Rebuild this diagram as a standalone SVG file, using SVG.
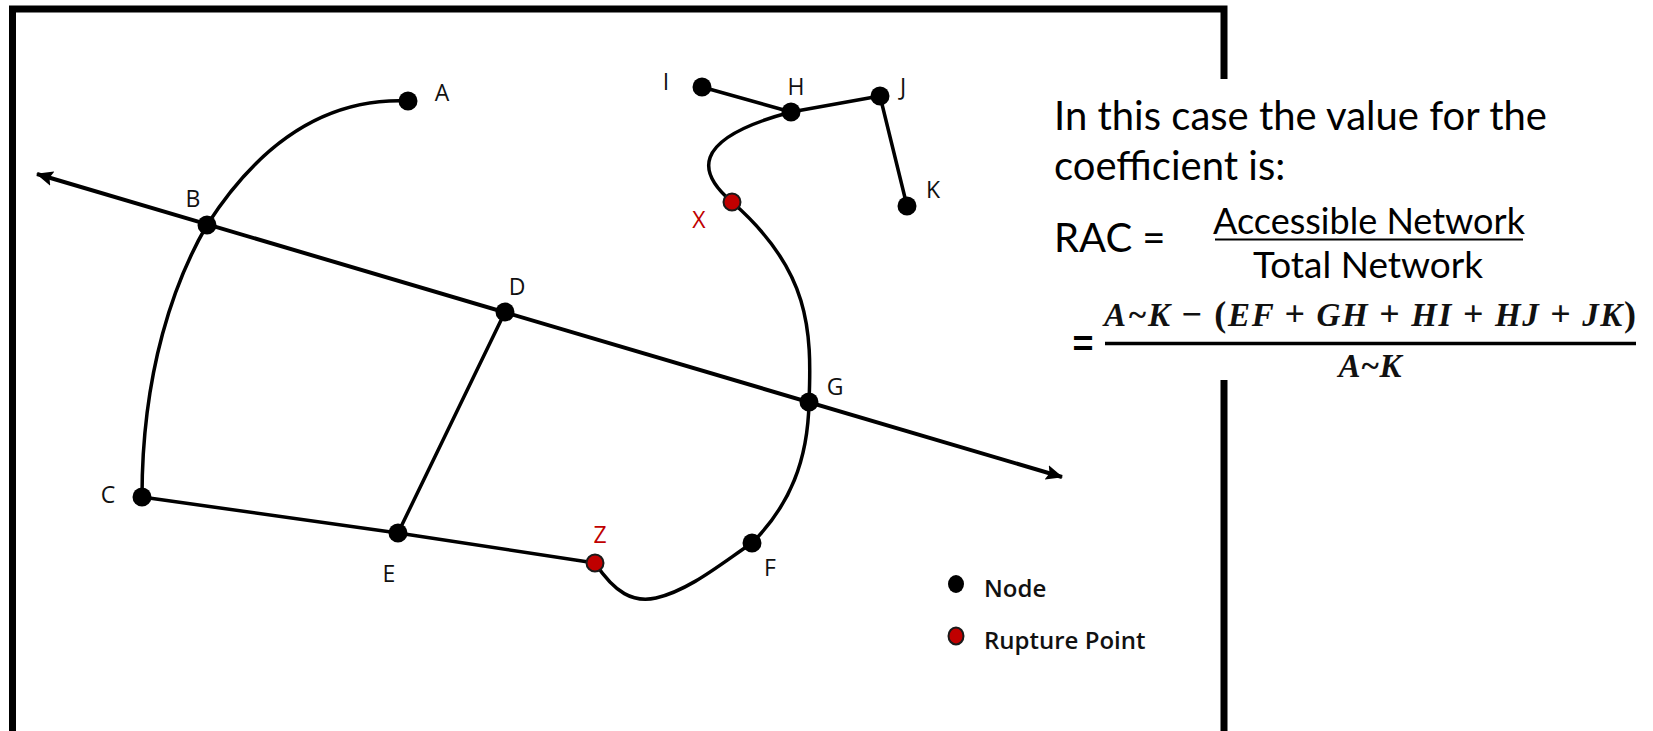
<svg xmlns="http://www.w3.org/2000/svg" width="1653" height="731" viewBox="0 0 1653 731">
  <style>
    .frame { stroke: #000; stroke-width: 7; fill: none; }
    .edge { stroke: #000; stroke-width: 3.5; fill: none; stroke-linecap: round; }
    .axis { stroke: #000; stroke-width: 4; fill: none; }
    .node { fill: #000; }
    .rupture { fill: #c00000; stroke: #1a1a1a; stroke-width: 2; }
    .lbl { font-family: "Open Sans", "DejaVu Sans", sans-serif; font-size: 23px; fill: #111; text-anchor: middle; }
    .lblr { fill: #c00000; }
    .leg { font-family: "Open Sans", "DejaVu Sans", sans-serif; font-size: 24px; font-weight: 600; fill: #111; }
    .txt { font-family: Lato, "Open Sans", sans-serif; fill: #000; }
    .math { font-family: "Liberation Serif", "DejaVu Serif", serif; font-style: italic; font-weight: bold; font-size: 33px; fill: #111; }
    .op { font-style: normal; font-weight: bold; font-size: 36px; }
  </style>
  <defs>
    <marker id="arr" markerUnits="userSpaceOnUse" markerWidth="17" markerHeight="15" refX="16" refY="7.5" orient="auto-start-reverse">
      <path d="M0,0 L17,7.5 L0,15 L3,7.5 z" fill="#000"/>
    </marker>
  </defs>
  <rect width="1653" height="731" fill="#fff"/>

  <g id="frame">
    <path class="frame" d="M12.5,731 L12.5,9 L1224,9 L1224,79"/>
    <path class="frame" d="M1224,380 L1224,731"/>
  </g>

  <g id="connectors">
    <line class="axis" x1="37" y1="174" x2="1062" y2="477" marker-start="url(#arr)" marker-end="url(#arr)"/>
    <path class="edge" d="M408,101 Q290,96 207,225"/>
    <path class="edge" d="M207,225 C175,280 142,370 142,497"/>
    <path class="edge" d="M142,497 L398,533"/>
    <path class="edge" d="M398,533 L595,563"/>
    <path class="edge" d="M505,312 L398,533"/>
    <path class="edge" d="M595,563 C615,593 633,603 656,598 C690,590 722,563 752,543"/>
    <path class="edge" d="M752,543 C790,505 808,460 809,402"/>
    <path class="edge" d="M809,402 C812,330 810,270 732,202"/>
    <path class="edge" d="M732,202 C700,175 686,140 791,112"/>
    <path class="edge" d="M702,87 L791,112"/>
    <path class="edge" d="M791,112 L880,96"/>
    <path class="edge" d="M880,96 L907,206"/>
  </g>

  <g id="node-A"><circle class="node" cx="408" cy="101" r="9.5"/><text class="lbl" x="442" y="101">A</text></g>
  <g id="node-B"><circle class="node" cx="207" cy="225" r="9.5"/><text class="lbl" x="193" y="207">B</text></g>
  <g id="node-C"><circle class="node" cx="142" cy="497" r="9.5"/><text class="lbl" x="108" y="503">C</text></g>
  <g id="node-D"><circle class="node" cx="505" cy="312" r="9.5"/><text class="lbl" x="517" y="295">D</text></g>
  <g id="node-E"><circle class="node" cx="398" cy="533" r="9.5"/><text class="lbl" x="389" y="582">E</text></g>
  <g id="node-F"><circle class="node" cx="752" cy="543" r="9.5"/><text class="lbl" x="770" y="576">F</text></g>
  <g id="node-G"><circle class="node" cx="809" cy="402" r="9.5"/><text class="lbl" x="835" y="395">G</text></g>
  <g id="node-H"><circle class="node" cx="791" cy="112" r="9.5"/><text class="lbl" x="796" y="95">H</text></g>
  <g id="node-I"><circle class="node" cx="702" cy="87" r="9.5"/><text class="lbl" x="666" y="90">I</text></g>
  <g id="node-J"><circle class="node" cx="880" cy="96" r="9.5"/><text class="lbl" x="903" y="95">J</text></g>
  <g id="node-K"><circle class="node" cx="907" cy="206" r="9.5"/><text class="lbl" x="933" y="198">K</text></g>
  <g id="node-X"><circle class="rupture" cx="732" cy="202" r="8.5"/><text class="lbl lblr" x="699" y="228">X</text></g>
  <g id="node-Z"><circle class="rupture" cx="595" cy="563" r="8.5"/><text class="lbl lblr" x="600" y="543">Z</text></g>

  <g id="legend">
    <ellipse class="node" cx="956" cy="584" rx="8" ry="9"/>
    <text class="leg" x="984" y="597">Node</text>
    <ellipse class="rupture" cx="956" cy="636" rx="7.5" ry="8.5"/>
    <text class="leg" x="984" y="649">Rupture Point</text>
  </g>

  <g id="formula">
    <text class="txt" x="1054" y="130" font-size="40">In this case the value for the</text>
    <text class="txt" x="1054" y="180" font-size="40">coefficient is:</text>
    <text class="txt" x="1054" y="252" font-size="40">RAC =</text>
    <text class="txt" x="1369" y="234" font-size="36" text-anchor="middle">Accessible Network</text>
    <line x1="1215" y1="239.5" x2="1523" y2="239.5" stroke="#000" stroke-width="2"/>
    <text class="txt" x="1368" y="278" font-size="37" text-anchor="middle">Total Network</text>
    <text x="1083" y="356" font-family="Liberation Sans, sans-serif" font-size="36" font-weight="bold" text-anchor="middle" fill="#000">=</text>
    <text class="math" x="1104" y="326" textLength="532" lengthAdjust="spacing">A~K <tspan class="op">− (</tspan>EF <tspan class="op">+</tspan> GH <tspan class="op">+</tspan> HI <tspan class="op">+</tspan> HJ <tspan class="op">+</tspan> JK<tspan class="op">)</tspan></text>
    <line x1="1105" y1="343.5" x2="1636" y2="343.5" stroke="#000" stroke-width="3.5"/>
    <text class="math" x="1370" y="377" text-anchor="middle">A~K</text>
  </g>
</svg>
